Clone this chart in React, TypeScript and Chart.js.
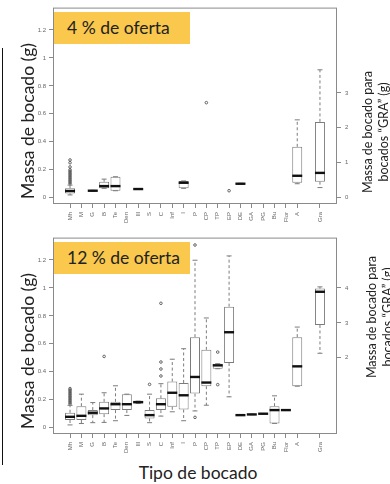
import React, { useEffect, useRef } from "react";
import { Chart, registerables } from "chart.js";

Chart.register(...registerables);

// Bite categories along the x axis; slot 21 is an empty gap before "Gra".
const categories = [
  "Mh", "M", "G", "B", "Te", "Den", "Ill", "S", "C", "Inf", "I", "P",
  "CP", "TP", "EP", "DE", "GA", "PG", "Bu", "Flor", "A", "", "Gra",
];
// "Gra" bites are read against the right-hand axis.
const graCategory = "Gra";

const massTicks = [0, 0.2, 0.4, 0.6, 0.8, 1, 1.2];
const graTicks4 = [0, 1, 2, 3];
const graTicks12 = [2, 3, 4];

type Num = number | null;

// ---- 4 % de oferta ----
const low4: Num[] = [0.02, null, 0.047, 0.067, 0.05, null, 0.06, null, null, null, 0.067, null, null, null, null, 0.097, null, null, null, null, 0.1, null, 0.29];
const q1_4: Num[] = [0.031, null, 0.047, 0.067, 0.05, null, 0.06, null, null, null, 0.067, null, null, null, null, 0.097, null, null, null, null, 0.107, null, 0.46];
const median4: Num[] = [0.048, null, 0.05, 0.083, 0.083, null, 0.062, null, null, null, 0.107, null, null, null, null, 0.1, null, null, null, null, 0.157, null, 0.71];
const q3_4: Num[] = [0.067, null, 0.053, 0.114, 0.15, null, 0.064, null, null, null, 0.12, null, null, null, null, 0.103, null, null, null, null, 0.364, null, 2.17];
const high4: Num[] = [0.09, null, 0.053, 0.133, 0.15, null, 0.064, null, null, null, 0.12, null, null, null, null, 0.103, null, null, null, null, 0.557, null, 3.66];
const outliers4: number[][] = [
  [0.1, 0.11, 0.12, 0.13, 0.14, 0.15, 0.16, 0.17, 0.18, 0.19, 0.2, 0.22, 0.25, 0.27],
  [], [], [], [], [], [], [], [], [], [], [],
  [0.68], [], [0.05], [], [], [], [], [], [], [], [],
];

// ---- 12 % de oferta ----
const low12: Num[] = [0.02, 0.03, 0.036, 0.038, 0.05, 0.088, 0.173, 0.036, 0.083, 0.114, 0.05, 0.12, 0.161, 0.422, 0.221, 0.088, 0.093, 0.098, 0.031, 0.124, 0.297, null, 2.13];
const q1_12: Num[] = [0.055, 0.055, 0.09, 0.097, 0.126, 0.126, 0.173, 0.066, 0.126, 0.15, 0.13, 0.244, 0.297, 0.422, 0.463, 0.088, 0.093, 0.098, 0.031, 0.124, 0.297, null, 2.94];
const median12: Num[] = [0.078, 0.085, 0.107, 0.138, 0.168, 0.168, 0.183, 0.09, 0.168, 0.25, 0.232, 0.363, 0.323, 0.446, 0.683, 0.09, 0.095, 0.1, 0.126, 0.126, 0.439, null, 3.89];
const q3_12: Num[] = [0.107, 0.154, 0.126, 0.185, 0.185, 0.24, 0.19, 0.126, 0.21, 0.33, 0.32, 0.648, 0.557, 0.458, 0.866, 0.092, 0.097, 0.102, 0.154, 0.128, 0.648, null, 3.98];
const high12: Num[] = [0.16, 0.24, 0.18, 0.25, 0.3, 0.24, 0.19, 0.24, 0.315, 0.49, 0.565, 1.198, 0.785, 0.458, 1.229, 0.092, 0.097, 0.102, 0.228, 0.128, 0.72, null, 4.03];
const outliers12: number[][] = [
  [0.17, 0.18, 0.19, 0.2, 0.21, 0.22, 0.23, 0.24, 0.25, 0.26, 0.27, 0.28],
  [], [], [0.51], [], [], [], [0.31], [0.37, 0.42, 0.47, 0.89], [], [],
  [1.307, 0.074], [], [0.541, 0.308], [], [], [], [], [], [], [], [], [],
];

type PanelStats = {
  low: Num[];
  q1: Num[];
  median: Num[];
  q3: Num[];
  high: Num[];
  outliers: number[][];
  graTicks: number[];
};

const panel4: PanelStats = { low: low4, q1: q1_4, median: median4, q3: q3_4, high: high4, outliers: outliers4, graTicks: graTicks4 };
const panel12: PanelStats = { low: low12, q1: q1_12, median: median12, q3: q3_12, high: high12, outliers: outliers12, graTicks: graTicks12 };

const GREY = "#7c7c7c";
const FRAME = "#8a8a8a";
const TICK_FONT = { family: "'Liberation Sans', Arial, sans-serif", size: 6 };

function whiskerPlugin(s: PanelStats) {
  return {
    id: "whiskers",
    afterDatasetsDraw(chart: any) {
      const { ctx, scales } = chart;
      const x = scales.x;
      const step = x.getPixelForValue(1) - x.getPixelForValue(0);
      const half = (step * 0.88) / 2;
      ctx.save();
      categories.forEach((cat, i) => {
        const med = s.median[i];
        if (med == null) return;
        const y = cat === graCategory ? scales.y2 : scales.y;
        const cx = x.getPixelForValue(i);
        const pq1 = y.getPixelForValue(s.q1[i] as number);
        const pq3 = y.getPixelForValue(s.q3[i] as number);
        const plo = y.getPixelForValue(s.low[i] as number);
        const phi = y.getPixelForValue(s.high[i] as number);
        ctx.strokeStyle = GREY;
        ctx.lineWidth = 1;
        // dashed whiskers
        ctx.setLineDash([3, 2.5]);
        ctx.beginPath();
        if (phi < pq3 - 0.5) {
          ctx.moveTo(cx, pq3);
          ctx.lineTo(cx, phi);
        }
        if (plo > pq1 + 0.5) {
          ctx.moveTo(cx, pq1);
          ctx.lineTo(cx, plo);
        }
        ctx.stroke();
        // staples
        ctx.setLineDash([]);
        ctx.beginPath();
        ctx.moveTo(cx - half / 2, phi);
        ctx.lineTo(cx + half / 2, phi);
        ctx.moveTo(cx - half / 2, plo);
        ctx.lineTo(cx + half / 2, plo);
        ctx.stroke();
        // median
        const pm = y.getPixelForValue(med);
        ctx.strokeStyle = "#111";
        ctx.lineWidth = 2.4;
        ctx.beginPath();
        ctx.moveTo(cx - half, pm);
        ctx.lineTo(cx + half, pm);
        ctx.stroke();
      });
      ctx.restore();
    },
    afterDraw(chart: any) {
      const { ctx, chartArea } = chart;
      ctx.save();
      ctx.strokeStyle = FRAME;
      ctx.lineWidth = 1;
      ctx.strokeRect(chartArea.left + 0.5, chartArea.top + 0.5, chartArea.right - chartArea.left - 1, chartArea.bottom - chartArea.top - 1);
      ctx.restore();
    },
  };
}

function BoxPanel({ stats, top }: { stats: PanelStats; top: number }) {
  const ref = useRef<HTMLCanvasElement>(null);

  useEffect(() => {
    const leftBoxes: any[] = [];
    const rightBoxes: any[] = [];
    const points: any[] = [];
    categories.forEach((cat, i) => {
      if (stats.q1[i] != null && stats.q3[i] != null) {
        const bar = { x: i, y: [stats.q1[i], stats.q3[i]] };
        (cat === graCategory ? rightBoxes : leftBoxes).push(bar);
      }
      (stats.outliers[i] || []).forEach((v) => points.push({ x: i, y: v }));
    });
    const slots = categories.map((c, i) => (c ? i : -1)).filter((i) => i >= 0);

    const tickGrid = { drawOnChartArea: false, drawTicks: true, tickLength: 4, color: FRAME, offset: false };

    const chart = new Chart(ref.current as HTMLCanvasElement, {
      type: "bar",
      data: {
        datasets: [
          {
            type: "bar",
            data: leftBoxes,
            yAxisID: "y",
            grouped: false,
            backgroundColor: "#ffffff",
            borderColor: GREY,
            borderWidth: 1,
            borderSkipped: false,
            categoryPercentage: 1,
            barPercentage: 0.88,
          } as any,
          {
            type: "bar",
            data: rightBoxes,
            yAxisID: "y2",
            grouped: false,
            backgroundColor: "#ffffff",
            borderColor: GREY,
            borderWidth: 1,
            borderSkipped: false,
            categoryPercentage: 1,
            barPercentage: 0.88,
          } as any,
          {
            type: "scatter",
            data: points,
            yAxisID: "y",
            pointStyle: "circle",
            pointRadius: 1.3,
            pointBorderWidth: 0.9,
            pointBorderColor: "#555",
            pointBackgroundColor: "rgba(0,0,0,0)",
            showLine: false,
          } as any,
        ],
      },
      options: {
        responsive: false,
        animation: false,
        events: [],
        layout: { padding: { top: 7, left: 0, right: 0, bottom: 0 } },
        plugins: { legend: { display: false }, tooltip: { enabled: false } },
        scales: {
          x: {
            type: "linear",
            min: -1.5,
            max: 23.5,
            offset: false,
            afterBuildTicks: (scale: any) => {
              scale.ticks = slots.map((v) => ({ value: v }));
            },
            afterFit: (scale: any) => {
              scale.height = 26;
            },
            ticks: {
              autoSkip: false,
              minRotation: 90,
              maxRotation: 90,
              padding: 4,
              color: "#666",
              font: TICK_FONT,
              callback: (v: any) => categories[v as number],
            },
            grid: tickGrid,
            border: { display: false },
          },
          y: {
            type: "linear",
            position: "left",
            min: -0.045,
            max: 1.36,
            afterBuildTicks: (scale: any) => {
              scale.ticks = massTicks.map((v) => ({ value: v }));
            },
            afterFit: (scale: any) => {
              scale.width = 53;
            },
            ticks: { padding: 3, color: "#666", font: TICK_FONT, callback: (v: any) => String(v) },
            grid: tickGrid,
            border: { display: false },
          },
          y2: {
            type: "linear",
            position: "right",
            min: -0.18,
            max: 5.44,
            afterBuildTicks: (scale: any) => {
              scale.ticks = stats.graTicks.map((v) => ({ value: v }));
            },
            afterFit: (scale: any) => {
              scale.width = 53;
            },
            ticks: { padding: 4, color: "#666", font: TICK_FONT, callback: (v: any) => String(v) },
            grid: tickGrid,
            border: { display: false },
          },
        },
      } as any,
      plugins: [whiskerPlugin(stats)],
    });
    return () => chart.destroy();
  }, [stats]);

  return (
    <canvas
      ref={ref}
      width={390}
      height={230}
      style={{ position: "absolute", left: 0, top, width: 390, height: 230 }}
    />
  );
}

const titleFont = "Lato, 'Open Sans', sans-serif";

function Rotated({ cx, cy, size, children, lineHeight }: { cx: number; cy: number; size: number; children: React.ReactNode; lineHeight?: number }) {
  return (
    <div
      style={{
        position: "absolute",
        left: cx,
        top: cy,
        transform: "translate(-50%, -50%) rotate(-90deg)",
        whiteSpace: "nowrap",
        fontFamily: titleFont,
        fontSize: size,
        lineHeight: lineHeight ? `${lineHeight}px` : "normal",
        textAlign: "center",
        color: "#222",
      }}
    >
      {children}
    </div>
  );
}

function OfferTag({ top, text }: { top: number; text: string }) {
  return (
    <div
      style={{
        position: "absolute",
        left: 54,
        top,
        width: 136,
        height: 32,
        background: "#F9C84C",
        fontFamily: titleFont,
        fontSize: 17.5,
        lineHeight: "32px",
        color: "#222",
        paddingLeft: 13,
        boxSizing: "border-box",
        whiteSpace: "nowrap",
      }}
    >
      {text}
    </div>
  );
}

export default function App() {
  return (
    <div
      style={{
        position: "fixed",
        left: 0,
        top: 0,
        width: 390,
        height: 484,
        background: "#fff",
        overflow: "hidden",
      }}
    >
      <div style={{ position: "absolute", left: 2, top: 48, height: 417, borderLeft: "1.5px solid #111" }} />
      <BoxPanel stats={panel4} top={0} />
      <BoxPanel stats={panel12} top={230} />
      <OfferTag top={12} text="4 % de oferta" />
      <OfferTag top={242} text="12 % de oferta" />
      <Rotated cx={27} cy={121} size={17.5}>Massa de bocado (g)</Rotated>
      <Rotated cx={27} cy={351} size={17.5}>Massa de bocado (g)</Rotated>
      <Rotated cx={376} cy={132} size={12.5} lineHeight={16}>
        Massa de bocado para
        <br />
        bocados “GRA” (g)
      </Rotated>
      <Rotated cx={380} cy={317} size={12.5} lineHeight={16}>
        Massa de bocado para
        <br />
        bocados “GRA” (g)
      </Rotated>
      <div
        style={{
          position: "absolute",
          left: 198,
          top: 472,
          transform: "translate(-50%, -50%)",
          fontFamily: titleFont,
          fontSize: 17.5,
          color: "#222",
          whiteSpace: "nowrap",
        }}
      >
        Tipo de bocado
      </div>
    </div>
  );
}
